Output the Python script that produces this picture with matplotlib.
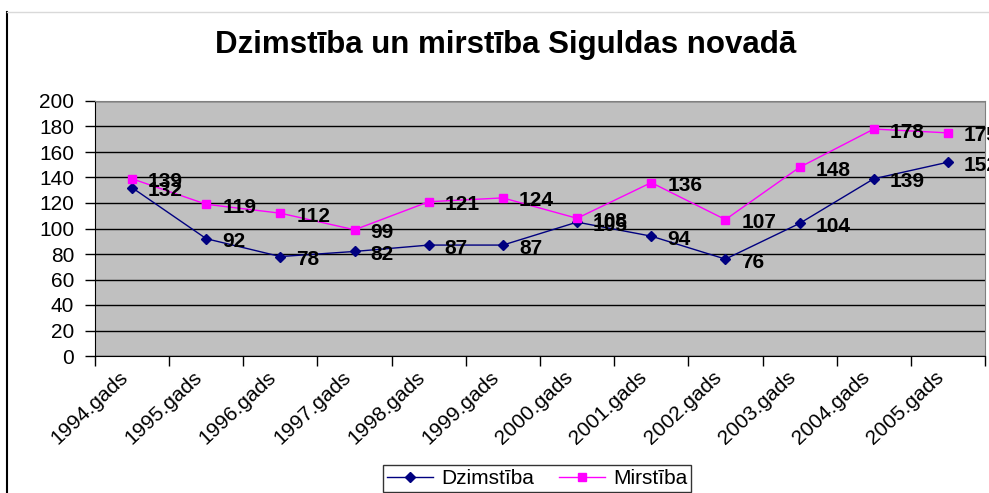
import matplotlib
matplotlib.use("Agg")
import matplotlib.pyplot as plt
from matplotlib.lines import Line2D

plt.rcParams["font.family"] = ["Liberation Sans", "DejaVu Sans"]

# ── Data ─────────────────────────────────────────────────────────────
years = ["1994.gads", "1995.gads", "1996.gads", "1997.gads", "1998.gads",
         "1999.gads", "2000.gads", "2001.gads", "2002.gads", "2003.gads",
         "2004.gads", "2005.gads"]
dzimstiba = [132, 92, 78, 82, 87, 87, 105, 94, 76, 104, 139, 152]
mirstiba = [139, 119, 112, 99, 121, 124, 108, 136, 107, 148, 178, 175]
y_ticks = [0, 20, 40, 60, 80, 100, 120, 140, 160, 180, 200]

W, H = 989, 493
FS = 15
fig = plt.figure(figsize=(W / 100, H / 100), dpi=100)
ax = fig.add_axes([95 / W, 1 - 356 / H, 890 / W, 255 / H])

ax.set_facecolor("#c0c0c0")
x = list(range(len(years)))

ax.plot(x, dzimstiba, color="#000080", lw=1, marker="D", ms=5,
        label="Dzimstība", zorder=3)
ax.plot(x, mirstiba, color="#ff00ff", lw=1, marker="s", ms=6,
        label="Mirstība", zorder=3)

for series in (dzimstiba, mirstiba):
    for xi, v in zip(x, series):
        ax.annotate(str(v), (xi, v), xytext=(16, -3),
                    textcoords="offset pixels", ha="left", va="center",
                    fontsize=FS, fontweight="bold",
                    annotation_clip=False, zorder=4)

ax.set_xlim(-0.5, len(years) - 0.5)
ax.set_ylim(0, 200)
ax.set_yticks(y_ticks)
ax.yaxis.grid(True, color="black", lw=1)
ax.set_axisbelow(True)
ax.tick_params(axis="y", labelsize=FS, length=7, width=1, direction="out",
               pad=8)

ax.set_xticks([i - 0.5 for i in range(len(years) + 1)], minor=False)
ax.set_xticklabels([])
ax.tick_params(axis="x", length=7, width=1, direction="out")
ax.set_xticks([i - 0.18 for i in x], minor=True)
ax.set_xticklabels(years, minor=True, rotation=43, ha="right",
                   rotation_mode="anchor", fontsize=FS)
ax.tick_params(axis="x", which="minor", length=0, pad=8)

for side in ("top", "right"):
    ax.spines[side].set_color("#808080")
for side in ("left", "bottom"):
    ax.spines[side].set_color("black")

fig.text(506 / W, 1 - 45 / H, "Dzimstība un mirstība Siguldas novadā",
         ha="center", va="center", fontsize=22.5, fontweight="bold")

# chart-area border fragments
fig.add_artist(Line2D([7 / W, 7 / W], [0, 1 - 12 / H], color="black", lw=1.5))
fig.add_artist(Line2D([7 / W, 1], [1 - 12 / H, 1 - 12 / H],
                      color="#d9d9d9", lw=1))

leg = fig.legend(loc="upper center", bbox_to_anchor=(537 / W, 1 - 465 / H),
                 ncol=2, fontsize=FS, frameon=True, fancybox=False,
                 handlelength=2.2, handletextpad=0.4, columnspacing=1.2,
                 borderpad=0.2, borderaxespad=0)
leg.get_frame().set_edgecolor("black")
leg.get_frame().set_linewidth(1)

fig.savefig("out.png", dpi=100)
